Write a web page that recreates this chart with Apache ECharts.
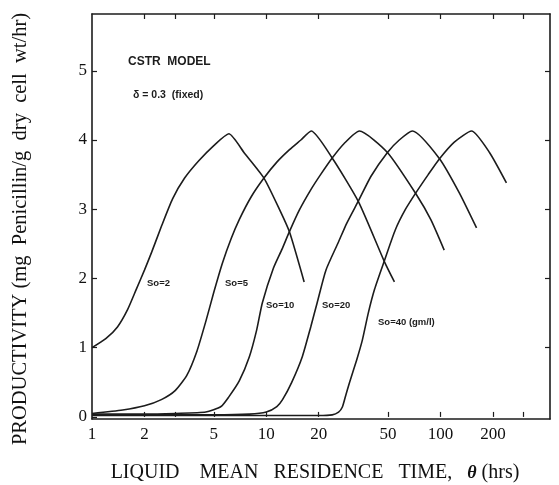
<!DOCTYPE html>
<html>
<head>
<meta charset="utf-8">
<script src="https://cdn.jsdelivr.net/npm/echarts@6/dist/echarts.min.js"></script>
<style>
html,body{margin:0;padding:0;background:#fff;}
#chart{width:559px;height:485px;}
</style>
</head>
<body>
<div id="chart"></div>
<script>
// ---- data (theta in hrs, productivity in mg penicillin / g dry cell wt / hr) ----
var so2Theta  = [1, 1.2, 1.4, 1.6, 1.8, 2.0, 2.2, 2.5, 2.9, 3.4, 4.1, 5.0, 6.1, 7.5, 9.7, 12, 13.6, 16.5];
var so2Prod   = [1.0, 1.13, 1.3, 1.55, 1.85, 2.12, 2.38, 2.75, 3.15, 3.45, 3.7, 3.92, 4.09, 3.81, 3.45, 2.98, 2.67, 1.95];

var so5Theta  = [1, 1.5, 2.0, 2.5, 3.0, 3.5, 4.0, 4.5, 5.0, 5.6, 6.3, 7.0, 8.2, 9.7, 11.5, 13.6, 15.8, 18.1, 23.9, 33.8, 47.7, 54.4];
var so5Prod   = [0.05, 0.10, 0.16, 0.25, 0.38, 0.6, 0.95, 1.38, 1.8, 2.22, 2.58, 2.85, 3.18, 3.45, 3.68, 3.86, 4.0, 4.13, 3.74, 3.11, 2.24, 1.95];

var so10Theta = [1, 2, 3, 4.5, 5.5, 6.1, 7.0, 8.0, 8.8, 9.5, 11, 12.3, 13.6, 15.5, 18, 20.5, 23.9, 28, 34.2, 49.6, 72.8, 88, 105];
var so10Prod  = [0.04, 0.04, 0.05, 0.07, 0.15, 0.29, 0.52, 0.87, 1.25, 1.65, 2.15, 2.42, 2.68, 2.99, 3.28, 3.5, 3.74, 3.95, 4.13, 3.82, 3.21, 2.85, 2.41];

var so20Theta = [1, 5, 8, 10, 11.5, 12.4, 14, 16.1, 18, 19.6, 22, 25.9, 29, 33.8, 40, 49.6, 58, 69, 98.7, 128, 161];
var so20Prod  = [0.03, 0.03, 0.04, 0.07, 0.15, 0.25, 0.5, 0.87, 1.3, 1.65, 2.12, 2.52, 2.8, 3.12, 3.48, 3.82, 4.0, 4.13, 3.73, 3.24, 2.73];

var so40Theta = [1, 10, 20, 23.9, 26, 27.3, 28.5, 30, 33, 35.6, 38.5, 41.8, 47.7, 55, 63, 72.8, 85, 98.7, 120, 150.7, 191, 239];
var so40Prod  = [0.02, 0.02, 0.02, 0.03, 0.07, 0.14, 0.3, 0.49, 0.82, 1.11, 1.5, 1.84, 2.26, 2.7, 3.0, 3.25, 3.5, 3.73, 3.97, 4.13, 3.82, 3.38];

var seriesNames = ['So=2', 'So=5', 'So=10', 'So=20', 'So=40 (gm/l)'];

var xTickLabels = [1, 2, 5, 10, 20, 50, 100, 200];
var xTickMarks  = [2, 3, 5, 10, 20, 50, 100, 200, 300];
var yTickLabels = [0, 1, 2, 3, 4, 5];

var xMin = 1, xMax = 425;
var yMin = -0.03, yMax = 5.82;

function zip(a, b) { return a.map(function (v, i) { return [v, b[i]]; }); }
function lg(v) { return Math.log(v) / Math.LN10; }

var curves = [
  zip(so2Theta, so2Prod),
  zip(so5Theta, so5Prod),
  zip(so10Theta, so10Prod),
  zip(so20Theta, so20Prod),
  zip(so40Theta, so40Prod)
];

var ink = '#1c1c1c';
var serif = '"Liberation Serif", "DejaVu Serif", serif';
var sans = '"Liberation Sans", Arial, sans-serif';

var chart = echarts.init(document.getElementById('chart'), null, {renderer: 'canvas'});

var option = {
  backgroundColor: '#fff',
  animation: false,
  grid: {left: 92, top: 14, right: 9, bottom: 66, containLabel: false},
  xAxis: [
    { // data axis (log scale)
      type: 'log', logBase: 10, min: xMin, max: xMax,
      axisLine: {show: true, onZero: false, lineStyle: {color: ink, width: 1.6}},
      axisTick: {show: false}, axisLabel: {show: false}, splitLine: {show: false}, minorTick: {show: false}
    },
    { // labels & ticks of the log axis, placed in log10 space
      type: 'value', position: 'bottom', min: lg(xMin), max: lg(xMax),
      axisLine: {show: false},
      axisTick: {show: true, inside: true, length: 5, customValues: xTickMarks.map(lg), lineStyle: {color: ink, width: 1.2}},
      axisLabel: {show: true, customValues: xTickLabels.map(lg), margin: 7,
        formatter: function (v) { return String(Math.round(Math.pow(10, v))); },
        fontFamily: serif, fontSize: 17, color: '#111'},
      splitLine: {show: false}
    },
    { // top frame
      type: 'value', position: 'top', min: lg(xMin), max: lg(xMax),
      axisLine: {show: true, onZero: false, lineStyle: {color: ink, width: 1.6}},
      axisTick: {show: true, inside: true, length: 5, customValues: xTickMarks.map(lg), lineStyle: {color: ink, width: 1.2}},
      axisLabel: {show: false}, splitLine: {show: false}
    }
  ],
  yAxis: [
    {
      type: 'value', min: yMin, max: yMax, position: 'left',
      axisLine: {show: true, onZero: false, lineStyle: {color: ink, width: 1.6}},
      axisTick: {show: true, inside: true, length: 5, customValues: yTickLabels, lineStyle: {color: ink, width: 1.2}},
      axisLabel: {show: true, customValues: yTickLabels, margin: 5, fontFamily: serif, fontSize: 17, color: '#111'},
      splitLine: {show: false}
    },
    {
      type: 'value', min: yMin, max: yMax, position: 'right',
      axisLine: {show: true, onZero: false, lineStyle: {color: ink, width: 1.6}},
      axisTick: {show: true, inside: true, length: 5, customValues: yTickLabels.slice(1), lineStyle: {color: ink, width: 1.2}},
      axisLabel: {show: false}, splitLine: {show: false}
    }
  ],
  series: curves.map(function (d, i) {
    return {
      name: seriesNames[i], type: 'line', xAxisIndex: 0, yAxisIndex: 0,
      data: d, showSymbol: false, smooth: 0.2,
      lineStyle: {color: ink, width: 1.6}, z: 3
    };
  }),
  graphic: [
    {type: 'text', x: 128, y: 62, style: {text: 'CSTR  MODEL', font: 'bold 12px ' + sans, fill: ink, verticalAlign: 'middle'}},
    {type: 'text', x: 133, y: 95, style: {text: 'δ = 0.3  (fixed)', font: 'bold 10.5px ' + sans, fill: ink, verticalAlign: 'middle'}},
    {type: 'text', x: 147, y: 283, style: {text: 'So=2', font: 'bold 9.5px ' + sans, fill: ink, verticalAlign: 'middle'}},
    {type: 'text', x: 225, y: 283, style: {text: 'So=5', font: 'bold 9.5px ' + sans, fill: ink, verticalAlign: 'middle'}},
    {type: 'text', x: 266, y: 305, style: {text: 'So=10', font: 'bold 9.5px ' + sans, fill: ink, verticalAlign: 'middle'}},
    {type: 'text', x: 322, y: 305, style: {text: 'So=20', font: 'bold 9.5px ' + sans, fill: ink, verticalAlign: 'middle'}},
    {type: 'text', x: 378, y: 322, style: {text: 'So=40 (gm/l)', font: 'bold 9.5px ' + sans, fill: ink, verticalAlign: 'middle'}},
    {type: 'text', x: 315, y: 473, style: {
      text: 'LIQUID    MEAN   RESIDENCE   TIME,   {t|θ} (hrs)',
      font: '20px ' + serif, fill: '#111', align: 'center', verticalAlign: 'middle',
      rich: {t: {font: 'italic bold 18px ' + serif, fill: '#111'}}
    }},
    {type: 'text', x: 21, y: 229, rotation: Math.PI / 2, style: {
      text: 'PRODUCTIVITY (mg  Penicillin/g  dry  cell  wt/hr)',
      font: '20.5px ' + serif, fill: '#111', align: 'center', verticalAlign: 'middle'
    }}
  ]
};
chart.setOption(option);
</script>
</body>
</html>
